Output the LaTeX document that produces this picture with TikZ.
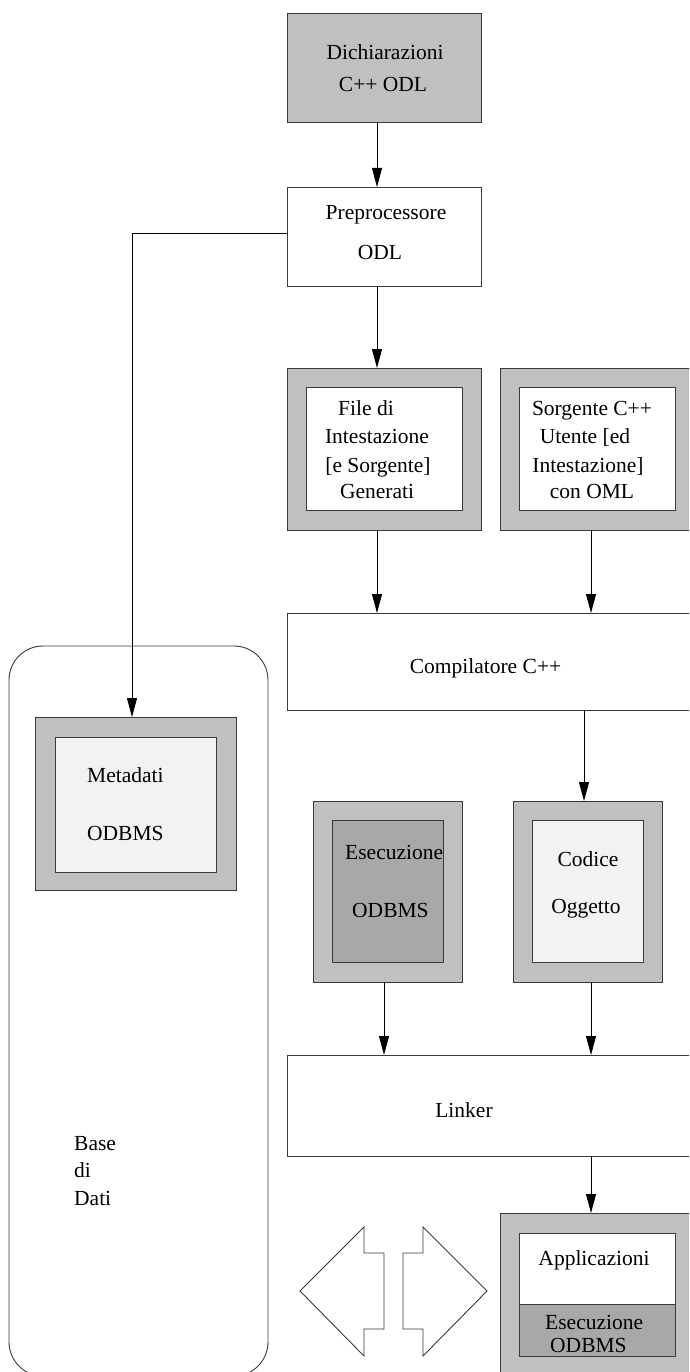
\documentclass[tikz,border=0pt]{standalone}
\usepackage{fontspec}
\setmainfont{Liberation Serif}
\usetikzlibrary{arrows.meta}
\definecolor{framegray}{HTML}{C0C0C0}
\definecolor{palegray}{HTML}{F2F2F2}
\definecolor{darkgray}{HTML}{A8A8A8}
\definecolor{edgegray}{HTML}{3A3A3A}

\begin{document}
\begin{tikzpicture}[x=1pt,y=-1pt,
  box/.style={draw=edgegray, line width=0.9pt, inner sep=0pt, outer sep=0pt},
  lbl/.style={inner sep=0pt, anchor=base, font=\fontsize{21.5}{26}\selectfont},
  lbll/.style={lbl, anchor=base west},
  flow/.style={draw=black, line width=0.8pt, -{Triangle[length=19pt,width=10pt]}}]
\useasboundingbox (0,0) rectangle (689,1372);
\clip (0,0) rectangle (689,1372);

% database container
\draw[edgegray, line width=0.9pt, rounded corners=34pt] (9,646) rectangle (268,1376);

% process boxes
\node[box, fill=framegray, minimum width=194pt, minimum height=109pt] (dich) at (384,67.5) {};
\node[box, fill=white, minimum width=194pt, minimum height=99pt] (pre) at (384,236.5) {};
\node[box, fill=framegray, minimum width=194pt, minimum height=162pt] (fileout) at (384,449) {};
\node[box, fill=white, minimum width=156pt, minimum height=123pt] (filein) at (384,448.5) {};
\node[box, fill=framegray, minimum width=194pt, minimum height=162pt] (srcout) at (597,449) {};
\node[box, fill=white, minimum width=156pt, minimum height=123pt] (srcin) at (597,448.5) {};
\node[box, fill=white, minimum width=407pt, minimum height=97pt] (comp) at (490.5,661.5) {};
\node[box, fill=framegray, minimum width=201pt, minimum height=173pt] (metaout) at (135.5,803.5) {};
\node[box, fill=palegray, minimum width=161pt, minimum height=135pt] (metain) at (135.5,804.5) {};
\node[box, fill=framegray, minimum width=149pt, minimum height=181pt] (runout) at (387.5,891.5) {};
\node[box, fill=darkgray, minimum width=111pt, minimum height=142pt] (runin) at (387.5,891) {};
\node[box, fill=framegray, minimum width=149pt, minimum height=181pt] (objout) at (587.5,891.5) {};
\node[box, fill=palegray, minimum width=111pt, minimum height=142pt] (objin) at (587.5,891) {};
\node[box, fill=white, minimum width=407pt, minimum height=101pt] (link) at (490.5,1105.5) {};
\node[box, fill=framegray, minimum width=194pt, minimum height=162pt] (appout) at (597,1294) {};
\node[box, fill=white, minimum width=156pt, minimum height=71pt] (appin) at (597,1268.5) {};
\node[box, fill=darkgray, minimum width=156pt, minimum height=52pt] (apprun) at (597,1330) {};

% labels
\node[lbl] (dichA) at (385,60) {Dichiarazioni};
\node[lbl] (dichB) at (383,92) {C++ ODL};
\node[lbl] (preA) at (386,220) {Preprocessore};
\node[lbl] (preB) at (380,259) {ODL};
\node[lbl] (fileA) at (366,415) {File di};
\node[lbl] (fileB) at (377,443) {Intestazione};
\node[lbl] (fileC) at (378,472) {[e Sorgente]};
\node[lbl] (fileD) at (377,498) {Generati};
\node[lbl] (srcA) at (592,415) {Sorgente C++};
\node[lbl] (srcB) at (585,443) {Utente [ed};
\node[lbl] (srcC) at (588,472) {Intestazione]};
\node[lbl] (srcD) at (592,498) {con OML};
\node[lbl] (compA) at (485.5,673) {Compilatore C++};
\node[lbll] (metaA) at (87,782) {Metadati};
\node[lbll] (metaB) at (87,840) {ODBMS};
\node[lbll] (runA) at (345,859) {Esecuzione};
\node[lbll] (runB) at (352,917) {ODBMS};
\node[lbl] (objA) at (588,866) {Codice};
\node[lbl] (objB) at (586,913) {Oggetto};
\node[lbl] (linkA) at (464,1117) {Linker};
\node[lbl] (appA) at (594,1265) {Applicazioni};
\node[lbll] (apprunA) at (545,1329) {Esecuzione};
\node[lbll] (apprunB) at (550,1352) {ODBMS};
\node[lbll] (dbA) at (74,1150) {Base};
\node[lbll] (dbB) at (74,1177) {di};
\node[lbll] (dbC) at (74,1205) {Dati};

% connectors
\draw[flow] ([xshift=-7pt]dich.south) -- ([xshift=-7pt]pre.north);
\draw[flow] ([xshift=-7pt]pre.south) -- ([xshift=-7pt]fileout.north);
\draw[flow] ([yshift=3.5pt]pre.west) -| ([xshift=-3.5pt]metaout.north);
\draw[flow] ([xshift=-7pt]fileout.south) -- ([xshift=-113.5pt]comp.north);
\draw[flow] ([xshift=-6pt]srcout.south) -- ([xshift=100.5pt]comp.north);
\draw[flow] ([xshift=93.5pt]comp.south) -- ([xshift=-3.5pt]objout.north);
\draw[flow] ([xshift=-3.5pt]runout.south) -- ([xshift=-106.5pt]link.north);
\draw[flow] ([xshift=3.5pt]objout.south) -- ([xshift=100.5pt]link.north);
\draw[flow] ([xshift=100.5pt]link.south) -- ([xshift=-6pt]appout.north);

% two-way block arrows
\draw[edgegray, line width=0.9pt, fill=white]
  (300,1291) -- (364,1227) -- (364,1253) -- (384,1253) -- (384,1329)
  -- (364,1329) -- (364,1356) -- cycle;
\draw[edgegray, line width=0.9pt, fill=white]
  (487,1291) -- (423,1227) -- (423,1253) -- (403,1253) -- (403,1329)
  -- (423,1329) -- (423,1356) -- cycle;
\end{tikzpicture}
\end{document}
